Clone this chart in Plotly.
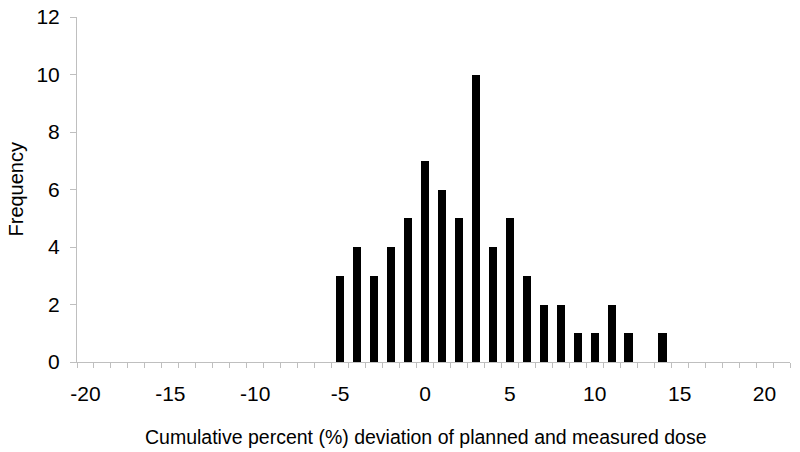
import plotly.graph_objects as go

deviation = list(range(-5, 15))
frequency = [3, 4, 3, 4, 5, 7, 6, 5, 10, 4, 5, 3, 2, 2, 1, 1, 2, 1, 0, 1]
x_ticks = [-20, -15, -10, -5, 0, 5, 10, 15, 20]
x_labels = ["-20", "-15", "-10", "-5", "0", "5", "10", "15", "20"]

FONT = "Liberation Sans, Arial, sans-serif"
GRAY = "#bfbfbf"

fig = go.Figure(go.Bar(x=deviation, y=frequency, width=0.5,
                       marker=dict(color="black", line=dict(width=0))))

fig.update_layout(
    width=800, height=452,
    margin=dict(l=77, r=10, t=17, b=90, autoexpand=False),
    plot_bgcolor="white", paper_bgcolor="white",
    font=dict(family=FONT, color="black"),
    showlegend=False,
    bargap=0,
    annotations=[
        dict(text="Cumulative percent (%) deviation of planned and measured dose",
             xref="paper", yref="paper", x=0.5, y=0, yshift=-75, xshift=-8,
             showarrow=False, xanchor="center", yanchor="middle",
             font=dict(size=19.5, family=FONT, color="black")),
        dict(text="Frequency", textangle=-90,
             xref="paper", yref="paper", x=0, y=0.5, xshift=-62, yshift=0,
             showarrow=False, xanchor="center", yanchor="middle",
             font=dict(size=20, family=FONT, color="black")),
    ],
)
fig.update_xaxes(
    range=[-20.5, 21.5], tickmode="array", tickvals=x_ticks, ticktext=x_labels,
    ticks="", showgrid=False, zeroline=False, automargin=False,
    showline=True, linecolor=GRAY, linewidth=1,
    tickfont=dict(size=21, family=FONT, color="black"),
    ticklabelstandoff=13, ticklabeloverflow="allow",
    minor=dict(tick0=0.5, dtick=1, ticks="outside", ticklen=5,
               tickcolor=GRAY, tickwidth=1, showgrid=False),
)
fig.update_yaxes(
    range=[0, 12], dtick=2, tick0=0,
    ticks="outside", ticklen=6, tickcolor=GRAY, tickwidth=1,
    showgrid=False, zeroline=False, automargin=False,
    showline=True, linecolor=GRAY, linewidth=1,
    tickfont=dict(size=21, family=FONT, color="black"),
    ticklabelstandoff=6, ticklabeloverflow="allow",
)

fig.write_html("out.html", config={"displayModeBar": False},
               post_script="document.body.style.margin='0';document.body.style.overflow='hidden';")
